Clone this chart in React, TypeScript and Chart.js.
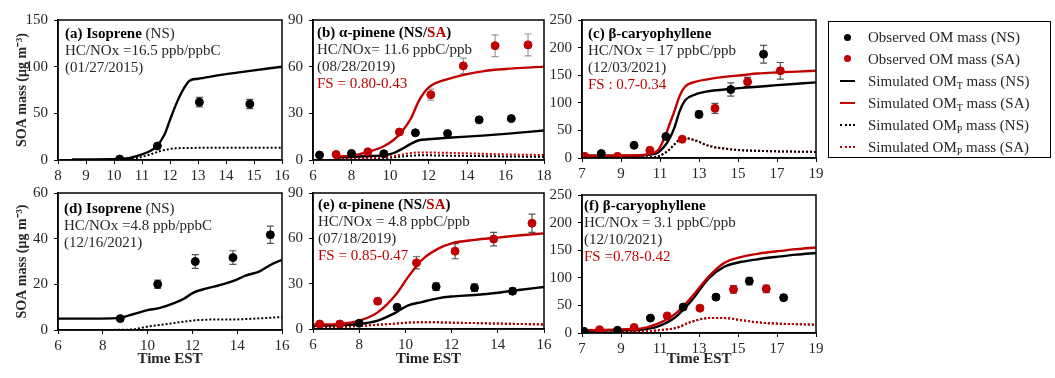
import React, { useEffect, useRef } from 'react';
import { Chart, registerables } from 'chart.js';

Chart.register(...registerables);

const RED = '#C00000';
const BLACK = '#000000';
const TEXT = '#262626';
const FONT = "'Liberation Serif', 'Times New Roman', Times, serif";

// ---------------- Panel (a) Isoprene NS 01/27/2015 ----------------
const aObsTime = [10.2, 11.55, 13.05, 14.85];
const aObsNS = [1, 15, 62, 60];
const aObsNSErr = [1, 2, 5, 5];
const aSimTime = [8.5, 10.2, 10.9, 11.5, 11.8, 12.0, 12.25, 12.5, 12.7, 13.0, 14.0, 15.0, 16.0];
const aSimTNS = [0.5, 1, 5, 14, 27, 43, 62, 77, 85, 87, 92, 96, 100];
const aSimPTime = [8.5, 10.2, 10.8, 11.3, 11.7, 12.2, 13.0, 16.0];
const aSimPNS = [0, 0.3, 2, 6, 10, 12.5, 13, 13.2];

// ---------------- Panel (b) alpha-pinene 08/28/2019 ----------------
const bObsNSTime = [6.34, 8.0, 9.68, 11.32, 12.99, 14.63, 16.3];
const bObsNS = [3.2, 4.2, 4.0, 17.5, 17.0, 25.8, 26.6];
const bObsNSErr = [0, 0, 0, 0, 0, 0, 0];
const bObsSATime = [7.2, 8.85, 10.49, 12.12, 13.81, 15.46, 17.17];
const bObsSA = [3.6, 5.3, 18, 42, 60.5, 73.5, 74];
const bObsSAErr = [0, 0, 0, 3.5, 5, 7, 7];
const bSimTime = [7.1, 8.1, 9.0, 9.7, 10.2, 10.6, 11.1, 11.5, 12.0, 13.0, 14.8, 16.0, 18.0];
const bSimTSA = [2.1, 3, 5.7, 9, 13, 18, 27, 38, 46.5, 52, 57, 58.5, 60];
const bSimTNS = [1.5, 2.1, 2.6, 3, 4.5, 7, 10.5, 12.7, 13.3, 14.3, 15.7, 16.8, 19];
const bSimPSA = [0.3, 0.8, 1.5, 1.9, 2.5, 3.5, 4.5, 4.8, 4.8, 4.6, 4.0, 3.6, 3.2];
const bSimPNS = [0.2, 0.5, 1, 1.3, 1.7, 2.2, 2.8, 3, 3, 2.8, 2.5, 2.3, 2.0];

// ---------------- Panel (c) beta-caryophyllene 12/03/2021 ----------------
const cObsNSTime = [7.99, 9.67, 11.3, 13.0, 14.63, 16.31];
const cObsNS = [8, 23, 39, 79, 124, 188];
const cObsNSErr = [0, 0, 0, 6, 12, 16];
const cObsSATime = [7.14, 8.82, 10.48, 12.14, 13.82, 15.49, 17.17];
const cObsSA = [3, 3, 14, 34, 90, 138, 158];
const cObsSAErr = [0, 0, 0, 3, 9, 8, 15];
const cSimTime = [7, 8, 9, 10, 10.5, 10.9, 11.25, 11.5, 11.75, 12.0, 12.3, 12.8, 13.5, 14.3, 15.2, 16, 17, 18, 19];
const cSimTSA = [4, 4, 4.5, 5, 8, 14, 38, 62, 86, 112, 130, 138, 143, 147, 150, 153, 155, 156.5, 158];
const cSimTNS = [4, 4, 4, 4.5, 6, 10, 22, 36, 56, 84, 105, 115, 121, 124, 127, 129, 132, 134.5, 137];
const cSimPNS = [0, 0, 0, 0.5, 1.5, 3, 9, 16, 25, 33, 36, 32, 22, 17, 14, 13, 12, 11.5, 11];
const cSimPSA = [0, 0, 0, 0.5, 1.5, 3, 9, 16, 25, 33, 36, 32, 22, 17, 14, 13, 12, 11.5, 11];

// ---------------- Panel (d) Isoprene NS 12/16/2021 ----------------
const dObsTime = [8.78, 10.45, 12.13, 13.81, 15.48];
const dObsNS = [5, 20, 30, 31.7, 41.7];
const dObsNSErr = [0, 1.8, 3, 3, 3.8];
const dSimTime = [6, 7.9, 8.8, 9.35, 9.95, 10.55, 11.15, 11.6, 12.05, 12.6, 13.2, 13.8, 14.4, 15, 15.5, 16];
const dSimTNS = [5, 5, 5.4, 6.9, 8.6, 9.7, 11.7, 13.6, 16.4, 18.1, 19.6, 21.4, 23.9, 25.7, 28.6, 30.7];
const dSimPNS = [0, 0, 0.1, 0.3, 1.4, 2.2, 3.0, 3.6, 4.2, 4.5, 4.6, 4.6, 4.8, 5.1, 5.4, 5.7];

// ---------------- Panel (e) alpha-pinene 07/18/2019 ----------------
const eObsNSTime = [8.0, 9.64, 11.33, 12.99, 14.64];
const eObsNS = [3.8, 14.4, 28, 27.3, 25];
const eObsNSErr = [0, 1, 2.5, 2.5, 2];
const eObsSATime = [6.29, 7.16, 8.8, 10.48, 12.15, 13.82, 15.48];
const eObsSA = [3.3, 3.3, 18.4, 43.8, 51.5, 59.5, 70];
const eObsSAErr = [0, 0, 1.8, 4, 5, 4.5, 6];
const eSimTime = [6, 7.2, 8, 8.8, 9.6, 10.1, 10.7, 11.4, 12, 13, 14, 15, 16];
const eSimTSA = [2.9, 3.4, 5.5, 11, 23, 34, 45.5, 53, 56.7, 59, 60.5, 62, 63.3];
const eSimTNS = [2.2, 2.6, 3.3, 5.5, 11, 15.5, 17.8, 20.3, 21.5, 22.5, 24, 26, 27.8];
const eSimPSA = [1, 1.3, 2, 2.8, 3.6, 4.2, 4.5, 4.4, 4.2, 3.9, 3.6, 3.3, 3.0];
const eSimPNS = [1, 1.3, 2, 2.8, 3.6, 4.2, 4.5, 4.4, 4.2, 3.9, 3.6, 3.3, 3.0];

// ---------------- Panel (f) beta-caryophyllene 12/10/2021 ----------------
const fObsNSTime = [7.1, 8.82, 10.51, 12.19, 13.87, 15.58, 17.34];
const fObsNS = [3, 5, 27, 47, 65, 94, 64];
const fObsNSErr = [0, 0, 0, 0, 4, 7, 5];
const fObsSATime = [7.9, 9.67, 11.37, 13.05, 14.77, 16.45];
const fObsSA = [6, 10, 31, 45, 79, 80];
const fObsSAErr = [0, 0, 0, 0, 7, 7];
const fSimTime = [7, 8, 9, 10, 10.9, 11.8, 12.6, 13.5, 14.3, 15.2, 16.1, 17, 18, 19];
const fSimTSA = [5, 5.5, 6.5, 8, 17, 35, 64, 102, 127, 138, 144, 148, 152, 155];
const fSimTNS = [4, 4.3, 5, 6, 12, 29, 58, 99, 120, 129, 134, 138, 142, 145];
const fSimPSA = [0, 0.5, 1, 2, 5, 9, 20, 27, 27, 23, 19, 17, 16, 15];
const fSimPNS = [0, 0.5, 1, 2, 5, 9, 20, 27, 27, 23, 19, 17, 16, 15];

// Legend labels
const legendItems = [
  { kind: 'dot', color: BLACK, pre: 'Observed OM', sub: '', post: ' mass (NS)' },
  { kind: 'dot', color: RED, pre: 'Observed OM', sub: '', post: ' mass (SA)' },
  { kind: 'line', color: BLACK, pre: 'Simulated OM', sub: 'T', post: ' mass (NS)' },
  { kind: 'line', color: RED, pre: 'Simulated OM', sub: 'T', post: ' mass (SA)' },
  { kind: 'dots', color: BLACK, pre: 'Simulated OM', sub: 'P', post: ' mass (NS)' },
  { kind: 'dots', color: RED, pre: 'Simulated OM', sub: 'P', post: ' mass (SA)' },
];

type Seg = { t: string; b?: boolean; c?: string };

const pts = (xs: number[], ys: number[]) => xs.map((x, i) => ({ x, y: ys[i] }));

const obsDs = (xs: number[], ys: number[], err: number[], color: string, errColor: string) => ({
  data: pts(xs, ys),
  showLine: false,
  pointRadius: 4,
  pointHoverRadius: 4,
  pointBackgroundColor: color,
  pointBorderColor: color,
  borderColor: color,
  backgroundColor: color,
  errors: err,
  errColor,
});

const lineDs = (xs: number[], ys: number[], color: string, dotted: boolean) => ({
  data: pts(xs, ys),
  showLine: true,
  pointRadius: 0,
  pointHoverRadius: 0,
  borderColor: color,
  backgroundColor: color,
  borderWidth: dotted ? 2 : 2.4,
  borderDash: dotted ? [2, 2] : [],
  cubicInterpolationMode: 'monotone',
  fill: false,
});

interface PanelCfg {
  key: string;
  canvas: { x: number; y: number; w: number; h: number };
  area: { l: number; r: number; t: number; b: number };
  xr: [number, number, number];
  yr: [number, number];
  yTitle: boolean;
  xTitle: boolean;
  datasets: any[];
  text: Seg[][];
  tdx: number;
  tdy: number;
}

const GRAY = '#555555';
const LGRAY = '#9a9a9a';

const panels: PanelCfg[] = [
  {
    key: 'a',
    canvas: { x: 0, y: 0, w: 300, h: 180 },
    area: { l: 58, r: 282, t: 20, b: 160 },
    xr: [8, 16, 1],
    yr: [150, 50],
    yTitle: true,
    xTitle: false,
    datasets: [
      obsDs(aObsTime, aObsNS, aObsNSErr, BLACK, GRAY),
      lineDs(aSimTime, aSimTNS, BLACK, false),
      lineDs(aSimPTime, aSimPNS, BLACK, true),
    ],
    text: [
      [{ t: '(a) Isoprene', b: true, c: BLACK }, { t: ' (NS)' }],
      [{ t: 'HC/NOx =16.5 ppb/ppbC' }],
      [{ t: '(01/27/2015)' }],
    ],
    tdx: 7,
    tdy: 14,
  },
  {
    key: 'b',
    canvas: { x: 260, y: 0, w: 300, h: 180 },
    area: { l: 313, r: 544, t: 20, b: 160 },
    xr: [6, 18, 2],
    yr: [90, 30],
    yTitle: false,
    xTitle: false,
    datasets: [
      obsDs(bObsSATime, bObsSA, bObsSAErr, RED, LGRAY),
      obsDs(bObsNSTime, bObsNS, bObsNSErr, BLACK, LGRAY),
      lineDs(bSimTime, bSimTSA, RED, false),
      lineDs(bSimTime, bSimTNS, BLACK, false),
      lineDs(bSimTime, bSimPSA, RED, true),
      lineDs(bSimTime, bSimPNS, BLACK, true),
    ],
    text: [
      [{ t: '(b) α-pinene (NS/', b: true, c: BLACK }, { t: 'SA', b: true, c: RED }, { t: ')', b: true, c: BLACK }],
      [{ t: 'HC/NOx= 11.6 ppbC/ppb' }],
      [{ t: '(08/28/2019)' }],
      [{ t: 'FS = 0.80-0.43', c: RED }],
    ],
    tdx: 4,
    tdy: 13.5,
  },
  {
    key: 'c',
    canvas: { x: 530, y: 0, w: 300, h: 180 },
    area: { l: 582, r: 816, t: 20, b: 158 },
    xr: [7, 19, 2],
    yr: [250, 50],
    yTitle: false,
    xTitle: false,
    datasets: [
      obsDs(cObsNSTime, cObsNS, cObsNSErr, BLACK, GRAY),
      obsDs(cObsSATime, cObsSA, cObsSAErr, RED, GRAY),
      lineDs(cSimTime, cSimTSA, RED, false),
      lineDs(cSimTime, cSimTNS, BLACK, false),
      lineDs(cSimTime, cSimPNS, BLACK, true),
      lineDs(cSimTime, cSimPSA, RED, true),
    ],
    text: [
      [{ t: '(c) β-caryophyllene', b: true, c: BLACK }],
      [{ t: 'HC/NOx = 17 ppbC/ppb' }],
      [{ t: '(12/03/2021)' }],
      [{ t: 'FS : 0.7-0.34', c: RED }],
    ],
    tdx: 6,
    tdy: 14,
  },
  {
    key: 'd',
    canvas: { x: 0, y: 178, w: 300, h: 200 },
    area: { l: 58, r: 282, t: 190, b: 330 },
    xr: [6, 16, 2],
    yr: [60, 20],
    yTitle: true,
    xTitle: true,
    datasets: [
      obsDs(dObsTime, dObsNS, dObsNSErr, BLACK, GRAY),
      lineDs(dSimTime, dSimTNS, BLACK, false),
      lineDs(dSimTime, dSimPNS, BLACK, true),
    ],
    text: [
      [{ t: '(d) Isoprene', b: true, c: BLACK }, { t: ' (NS)' }],
      [{ t: 'HC/NOx =4.8 ppb/ppbC' }],
      [{ t: '(12/16/2021)' }],
    ],
    tdx: 6,
    tdy: 16.5,
  },
  {
    key: 'e',
    canvas: { x: 260, y: 178, w: 300, h: 200 },
    area: { l: 313, r: 544, t: 193, b: 329 },
    xr: [6, 16, 2],
    yr: [90, 30],
    yTitle: false,
    xTitle: true,
    datasets: [
      obsDs(eObsSATime, eObsSA, eObsSAErr, RED, GRAY),
      obsDs(eObsNSTime, eObsNS, eObsNSErr, BLACK, GRAY),
      lineDs(eSimTime, eSimTSA, RED, false),
      lineDs(eSimTime, eSimTNS, BLACK, false),
      lineDs(eSimTime, eSimPSA, RED, true),
      lineDs(eSimTime, eSimPNS, BLACK, true),
    ],
    text: [
      [{ t: '(e) α-pinene (NS/', b: true, c: BLACK }, { t: 'SA', b: true, c: RED }, { t: ')', b: true, c: BLACK }],
      [{ t: 'HC/NOx = 4.8 ppbC/ppb' }],
      [{ t: '(07/18/2019)' }],
      [{ t: 'FS = 0.85-0.47', c: RED }],
    ],
    tdx: 5,
    tdy: 12.5,
  },
  {
    key: 'f',
    canvas: { x: 530, y: 178, w: 300, h: 200 },
    area: { l: 582, r: 816, t: 195, b: 333 },
    xr: [7, 19, 2],
    yr: [250, 50],
    yTitle: false,
    xTitle: true,
    datasets: [
      obsDs(fObsNSTime, fObsNS, fObsNSErr, BLACK, GRAY),
      obsDs(fObsSATime, fObsSA, fObsSAErr, RED, GRAY),
      lineDs(fSimTime, fSimTSA, RED, false),
      lineDs(fSimTime, fSimTNS, BLACK, false),
      lineDs(fSimTime, fSimPSA, RED, true),
      lineDs(fSimTime, fSimPNS, BLACK, true),
    ],
    text: [
      [{ t: '(f) β-caryophyllene', b: true, c: BLACK }],
      [{ t: 'HC/NOx = 3.1 ppbC/ppb' }],
      [{ t: '(12/10/2021)' }],
      [{ t: 'FS =0.78-0.42', c: RED }],
    ],
    tdx: 2,
    tdy: 11.5,
  },
];

const decoPlugin = (cfg: PanelCfg) => ({
  id: 'deco_' + cfg.key,
  beforeDatasetsDraw(chart: any) {
    const ctx = chart.ctx;
    const xs = chart.scales.x;
    const ys = chart.scales.y;
    ctx.save();
    chart.data.datasets.forEach((ds: any) => {
      if (!ds.errors) return;
      ctx.strokeStyle = ds.errColor;
      ctx.lineWidth = 1.2;
      ds.data.forEach((p: any, j: number) => {
        const e = ds.errors[j];
        if (!e) return;
        const px = xs.getPixelForValue(p.x);
        const y1 = ys.getPixelForValue(p.y + e);
        const y2 = ys.getPixelForValue(p.y - e);
        ctx.beginPath();
        ctx.moveTo(px, y1);
        ctx.lineTo(px, y2);
        ctx.moveTo(px - 3.5, y1);
        ctx.lineTo(px + 3.5, y1);
        ctx.moveTo(px - 3.5, y2);
        ctx.lineTo(px + 3.5, y2);
        ctx.stroke();
      });
    });
    ctx.restore();
  },
  afterDraw(chart: any) {
    const ctx = chart.ctx;
    const a = chart.chartArea;
    ctx.save();
    ctx.strokeStyle = '#000';
    ctx.lineWidth = 1.5;
    ctx.strokeRect(a.left, a.top, a.right - a.left, a.bottom - a.top);
    ctx.textBaseline = 'middle';
    ctx.textAlign = 'left';
    cfg.text.forEach((line, i) => {
      let x = a.left + cfg.tdx;
      const y = a.top + cfg.tdy + i * 17;
      line.forEach((s) => {
        ctx.font = `${s.b ? 'bold ' : ''}15px ${FONT}`;
        ctx.fillStyle = s.c || TEXT;
        ctx.fillText(s.t, x, y);
        x += ctx.measureText(s.t).width;
      });
    });
    ctx.restore();
  },
});

function Panel({ cfg }: { cfg: PanelCfg }) {
  const ref = useRef<HTMLCanvasElement | null>(null);
  useEffect(() => {
    if (!ref.current) return;
    const { canvas, area } = cfg;
    const chart = new Chart(ref.current, {
      type: 'scatter',
      data: { datasets: cfg.datasets as any },
      options: {
        animation: false,
        responsive: false,
        devicePixelRatio: 1,
        events: [],
        layout: {
          padding: {
            left: 0,
            top: area.t - canvas.y,
            right: canvas.x + canvas.w - area.r,
            bottom: 0,
          },
        },
        plugins: { legend: { display: false }, tooltip: { enabled: false }, title: { display: false } },
        scales: {
          x: {
            type: 'linear',
            min: cfg.xr[0],
            max: cfg.xr[1],
            afterFit: (s: any) => {
              s.height = canvas.y + canvas.h - area.b;
            },
            ticks: {
              stepSize: cfg.xr[2],
              autoSkip: false,
              maxRotation: 0,
              padding: 3,
              color: TEXT,
              font: { family: FONT, size: 15 },
            },
            grid: { drawOnChartArea: false, drawTicks: true, tickLength: 4, color: '#000', lineWidth: 1 },
            border: { display: true, color: '#000', width: 1.5 },
            title: {
              display: cfg.xTitle,
              text: 'Time EST',
              color: TEXT,
              font: { family: FONT, size: 15, weight: 'bold' },
              padding: { top: 0, bottom: 10 },
            },
          },
          y: {
            type: 'linear',
            min: 0,
            max: cfg.yr[0],
            afterFit: (s: any) => {
              s.width = area.l - canvas.x;
            },
            ticks: {
              stepSize: cfg.yr[1],
              padding: 6,
              color: TEXT,
              font: { family: FONT, size: 15 },
            },
            grid: { drawOnChartArea: false, drawTicks: true, tickLength: 4, color: '#000', lineWidth: 1 },
            border: { display: true, color: '#000', width: 1.5 },
            title: {
              display: cfg.yTitle,
              text: 'SOA mass (μg m⁻³)',
              color: TEXT,
              font: { family: FONT, size: 14, weight: 'bold' },
              padding: { top: 13.5, bottom: 0 },
            },
          },
        },
      } as any,
      plugins: [decoPlugin(cfg)],
    });
    return () => chart.destroy();
  }, [cfg]);
  const { canvas } = cfg;
  return (
    <canvas
      ref={ref}
      width={canvas.w}
      height={canvas.h}
      style={{ position: 'absolute', left: canvas.x, top: canvas.y, width: canvas.w, height: canvas.h }}
    />
  );
}

function Legend() {
  return (
    <div
      style={{
        position: 'absolute',
        left: 828,
        top: 21,
        width: 223,
        height: 137,
        border: '1.5px solid #000',
        boxSizing: 'border-box',
        fontFamily: FONT,
        fontSize: 15,
        color: TEXT,
      }}
    >
      {legendItems.map((it, i) => (
        <div
          key={i}
          style={{ position: 'absolute', left: 0, top: 4 + i * 21.9, height: 22, width: '100%', whiteSpace: 'nowrap' }}
        >
          <div style={{ position: 'absolute', left: 10, top: 0, width: 16, height: 22 }}>
            {it.kind === 'dot' && (
              <div
                style={{
                  position: 'absolute',
                  left: 5,
                  top: 7.5,
                  width: 7,
                  height: 7,
                  borderRadius: '50%',
                  background: it.color,
                }}
              />
            )}
            {it.kind === 'line' && (
              <div style={{ position: 'absolute', left: 1, top: 10, width: 15, height: 2, background: it.color }} />
            )}
            {it.kind === 'dots' && (
              <div
                style={{
                  position: 'absolute',
                  left: 1,
                  top: 10,
                  width: 15,
                  height: 0,
                  borderTop: `2px dotted ${it.color}`,
                }}
              />
            )}
          </div>
          <div style={{ position: 'absolute', left: 39, top: 0, lineHeight: '22px' }}>
            {it.pre}
            {it.sub && <sub style={{ fontSize: 10, verticalAlign: '-3px' }}>{it.sub}</sub>}
            {it.post}
          </div>
        </div>
      ))}
    </div>
  );
}

export default function App() {
  return (
    <div style={{ position: 'absolute', left: 0, top: 0, width: 1055, height: 378, background: '#fff', overflow: 'hidden' }}>
      {panels.map((p) => (
        <Panel key={p.key} cfg={p} />
      ))}
      <Legend />
    </div>
  );
}
